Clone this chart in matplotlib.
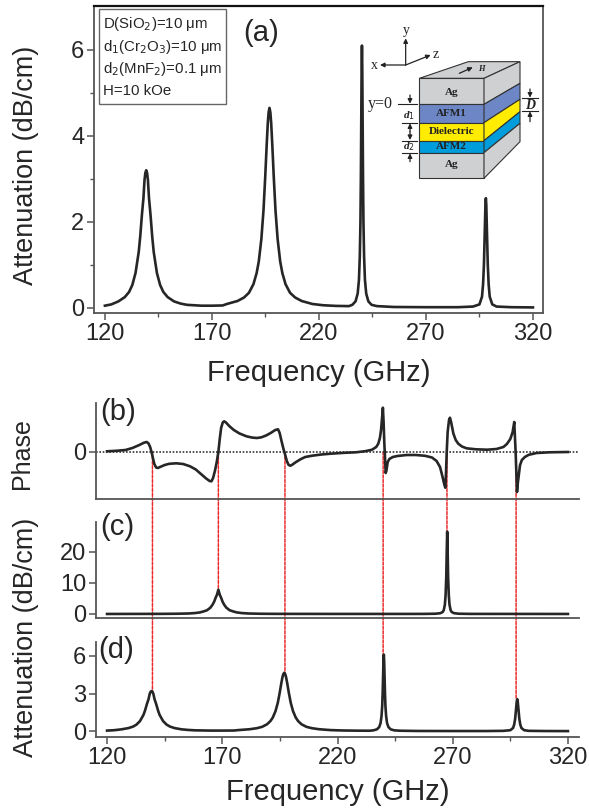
import matplotlib
matplotlib.use("Agg")
import matplotlib.pyplot as plt
from matplotlib.patches import ConnectionPatch, Polygon, Rectangle

plt.rcParams['font.family'] = ['Liberation Sans', 'DejaVu Sans']
W, H = 589, 809
INK = '#262626'
AX = '#555555'

# ---------- data ----------
freq_a = [120, 123, 126.3, 129.3, 131.3, 132.8, 134.3, 135.8, 136.5, 137.3, 138, 138.5, 138.9, 139.3,
          139.7, 140.1, 140.6, 141.3, 142.1, 142.8, 144.3, 145.8, 147.3, 149.3, 152.3, 155.3, 158.3, 165, 170, 175,
          177, 182, 185, 187.3, 189.4, 190.9, 191.9, 193.1, 194.1, 194.9, 195.6, 196.1, 196.5, 196.9,
          197.3, 197.7, 198.2, 198.9, 199.7, 200.7, 201.9, 202.9, 204.4, 206.5, 208.9, 211.9, 216.9, 222, 228, 234,
          235.6, 237.1, 238.1, 238.7, 239.1, 239.4, 239.6, 239.8, 239.95, 240.1,
          240.25, 240.4, 240.6, 240.8, 241.1, 241.5, 242.1, 243.1, 244.6, 247.1, 255, 270, 285, 292,
          295, 296.2, 296.7, 297.1, 297.4, 297.6, 297.8, 298,
          298.2, 298.4, 298.6, 298.9, 299.3, 299.8, 301, 303, 310, 320]
atten_a = [.05, .08, .15, .25, .37, .53, .81, 1.3, 1.66, 2.17, 2.55, 2.97, 3.14, 3.2,
           3.14, 2.97, 2.55, 2.17, 1.66, 1.3, .81, .53, .37, .25, .15, .10, .07, .05, .05, .055,
           .09, .16, .24, .35, .55, .81, 1.08, 1.6, 2.27, 3.04, 3.8, 4.29, 4.55, 4.65,
           4.55, 4.29, 3.8, 3.04, 2.27, 1.6, 1.08, .81, .55, .35, .24, .16, .09, .06, .045, .04,
           .07, .15, .33, .65, 1.2, 2.0, 3.05, 4.5, 5.6, 6.1,
           5.6, 4.5, 3.05, 2.0, 1.2, .65, .33, .15, .07, .04, .02, .015, .015, .03,
           .08, .26, .55, 1.0, 1.6, 2.0, 2.4, 2.55,
           2.4, 2.0, 1.6, 1.0, .55, .26, .08, .03, .015, .01]

freq_b = [120, 124, 128, 131, 134, 136, 137.2, 138, 138.7, 139.3, 139.8, 140.5, 141.3, 142, 143, 145, 147, 150, 153,
          156, 158.5, 161, 163, 164.5, 165.3, 166, 166.8, 167.6, 168.3, 168.9, 169.5, 170.2, 170.8, 171.6, 173, 175,
          177.5, 180.5, 183, 185, 187, 189, 191, 193, 194.2, 194.9, 195.7, 196.5, 197.2, 198, 198.8, 199.6, 200.5,
          202, 204, 206, 209, 213, 217, 223, 228, 232, 235, 236.8, 237.7, 238.4, 238.9, 239.3, 239.7, 240, 240.3,
          240.6, 240.9, 241.2, 241.8, 242.5, 244, 246, 250, 254, 258, 261, 263, 264.5, 265.6, 266.4, 266.8, 267.1,
          267.4, 267.8, 268.4, 268.8, 269.3, 270.3, 271.3, 272.4, 274, 276, 280, 285, 289, 292, 293.5, 295, 296,
          296.7, 297, 297.3, 297.6, 297.9, 298.3, 299.2, 300, 301.3, 303, 306.4, 312, 320]
phase_b = [.07, .12, .2, .4, .7, .93, 1.0, .85, .5, 0, -.5, -1.2, -1.55, -1.6, -1.5, -1.3, -1.18, -1.13, -1.2,
           -1.43, -1.75, -2.25, -2.65, -2.9, -2.93, -2.6, -1.9, -1.0, 0, 1.3, 2.4, 2.95, 3.07, 2.95, 2.6, 2.2,
           1.85, 1.57, 1.44, 1.4, 1.47, 1.65, 1.9, 2.2, 2.27, 1.9, 1.1, .35, -.2, -.9, -1.3, -1.37, -1.25,
           -1.0, -.72, -.5, -.37, -.25, -.17, -.08, -.03, .08, .23, .5, .83, 1.4, 2.2, 3.3, 4.43, 3.0, 1.0,
           -.5, -2.1, -1.9, -1.0, -.7, -.5, -.4, -.3, -.3, -.38, -.55, -.9, -1.5, -2.5, -3.3, -3.57, -2.0,
           0, 2.0, 3.2, 3.43, 3.0, 1.83, 1.2, .83, .55, .37, .27, .23, .3, .5, .8, 1.3, 2.0,
           3.0, 1.5, 0, -2.0, -4.0, -3.0, -1.33, -.8, -.5, -.28, -.1, -.03, 0]

freq_c = [120, 143, 150, 155.3, 158.3, 160.3, 161.8, 163.4, 164.8, 165.8, 166.5, 167.1, 167.7, 168.3,
          168.9, 169.5, 170.1, 170.8, 171.8, 173.2, 174.8, 176.3, 178.3, 181.3, 186.3, 193.3, 220, 250, 257.6, 262.6,
          264.6, 265.6, 266.1, 266.6, 266.9, 267.2, 267.4, 267.6,
          267.8, 268, 268.3, 268.6, 269.1, 269.6, 270.6, 272.6, 277.6, 320]
atten_c = [0, .03, .07, .15, .3, .5, .8, 1.2, 2.0, 3.0, 4.0, 5.2, 6.2, 7.8,
           6.2, 5.2, 4.0, 3.0, 2.0, 1.2, .8, .5, .3, .15, .07, .03, .01, .01, .02, .08,
           .25, .6, 1.2, 3.0, 6.0, 12.0, 20.0, 26.5,
           20.0, 12.0, 6.0, 3.0, 1.2, .6, .25, .08, .02, 0]

freq_d = freq_a
atten_d = atten_a

x_ticks = [120, 170, 220, 270, 320]
x_minor = [145, 195, 245, 295]
res_dc = [139.7, 197.2, 239.8, 297.5]
res_c = [168.3, 267.5]
peak_d = [3.2, 4.65, 6.1, 2.55]
peak_c = [7.8, 26.5]

info = ['D(SiO$_2$)=10 $\\mathregular{\\mu}$m', 'd$_1$(Cr$_2$O$_3$)=10 $\\mathregular{\\mu}$m',
        'd$_2$(MnF$_2$)=0.1 $\\mathregular{\\mu}$m', 'H=10 kOe']

fig = plt.figure(figsize=(W/100, H/100), dpi=100)


def make_ax(left, right, top, bottom):
    return fig.add_axes([left/W, 1-bottom/H, (right-left)/W, (bottom-top)/H])


LW = 1.9
a = make_ax(94, 543, 6, 313)
b = make_ax(96, 579, 403, 499)
c = make_ax(96, 579, 522, 618)
d = make_ax(96, 579, 642, 737)

a.plot(freq_a, atten_a, color=INK, lw=LW, solid_joinstyle='round')
b.plot(freq_b, phase_b, color=INK, lw=LW, solid_joinstyle='round', zorder=3)
c.plot(freq_c, atten_c, color=INK, lw=LW, solid_joinstyle='round')
d.plot(freq_d, atten_d, color=INK, lw=LW, solid_joinstyle='round')

a.set_xlim(114.9, 324.7)
a.set_ylim(-0.12, 7.02)
for ax in (b, c, d):
    ax.set_xlim(115.2, 324.8)
b.set_ylim(-4.7, 4.9)
c.set_ylim(-1.3, 29.6)
d.set_ylim(-0.46, 7.1)

for ax in (a, b, c, d):
    for s in ax.spines.values():
        s.set_color(AX)
        s.set_linewidth(1.3)
    ax.tick_params(colors=INK, labelsize=17, width=1.1, length=5, color=AX, pad=2)
    ax.tick_params(which='minor', width=1, length=3, color=AX)
    ax.patch.set_alpha(0)
a.spines['top'].set_color('#111111')
a.spines['top'].set_linewidth(1.6)
for ax in (b, c, d):
    ax.spines['top'].set_visible(False)
    ax.spines['right'].set_visible(False)

a.set_xticks(x_ticks)
a.set_xticks(x_minor, minor=True)
a.set_yticks([0, 2, 4, 6])
a.set_yticks([1, 3, 5], minor=True)
d.set_xticks(x_ticks)
d.set_xticks(x_minor, minor=True)
d.set_yticks([0, 3, 6])
b.set_xticks([])
b.set_yticks([0])
c.set_xticks([])
c.set_yticks([0, 10, 20])

a.set_xlabel('Frequency (GHz)', fontsize=21, color=INK, labelpad=10)
d.set_xlabel('Frequency (GHz)', fontsize=21, color=INK, labelpad=7)
fig.text(26/W, 1-165/H, 'Attenuation (dB/cm)', fontsize=19.5, color=INK, rotation=90, ha='center', va='center')
fig.text(22/W, 1-454/H, 'Phase', fontsize=18, color=INK, rotation=90, ha='center', va='center')
fig.text(26/W, 1-637/H, 'Attenuation (dB/cm)', fontsize=19.5, color=INK, rotation=90, ha='center', va='center')

b.axhline(0, color='#333333', lw=1.2, ls=(0, (1, 1)), zorder=1)

for lab, px, py in (('(a)', 243, 33), ('(b)', 100, 412), ('(c)', 100, 527), ('(d)', 98, 650)):
    fig.text(px/W, 1-py/H, lab, fontsize=21, color=INK, ha='left', va='center')

# red guide lines, drawn between data positions of the panels
for f, p in zip(res_dc, peak_d):
    fig.add_artist(ConnectionPatch((f, 0), (f, p), 'data', 'data', axesA=b, axesB=d,
                                   color='#ee2b2b', lw=1.1, ls=(0, (2, 1)), zorder=0))
for f, p in zip(res_c, peak_c):
    fig.add_artist(ConnectionPatch((f, 0), (f, p), 'data', 'data', axesA=b, axesB=c,
                                   color='#ee2b2b', lw=1.1, ls=(0, (2, 1)), zorder=0))

# ---------- overlay in pixel space: parameter box and sample schematic ----------
o = fig.add_axes([0, 0, 1, 1])
o.set_xlim(0, W)
o.set_ylim(H, 0)
o.axis('off')
o.patch.set_alpha(0)

o.add_patch(Rectangle((99, 9), 127, 95, fc='white', ec='#666666', lw=1))
for s, y in zip(info, (24, 47, 69, 91)):
    o.text(103, y, s, fontsize=10.8, color=INK, va='center', ha='left')


def z(x, y):
    return 340 + x/3, 10 + y/3


def poly(pts, color):
    o.add_patch(Polygon([z(*p) for p in pts], closed=True, fc=color, ec='#333333', lw=0.8))


GREY, BLUE1, YEL, BLUE2 = '#cfd0d2', '#6c86c6', '#ffec00', '#009ddc'
levels = [(205, 283, 155, 220, GREY), (283, 338, 220, 268, BLUE1), (338, 392, 268, 305, YEL),
          (392, 428, 305, 340, BLUE2), (428, 505, 340, 395, GREY)]
poly([(238, 205), (385, 155), (540, 155), (432, 205)], GREY)
for y0, y1, s0, s1, col in levels:
    poly([(238, y0), (432, y0), (432, y1), (238, y1)], col)
    poly([(432, y0), (540, s0), (540, s1), (432, y1)], col)

for s, y in (('Ag', 246), ('AFM1', 310), ('Dielectric', 364), ('AFM2', 409), ('Ag', 464)):
    x, yy = z(335, y)
    o.text(x, yy, s, family=['Liberation Serif'], fontsize=8, fontweight='bold', color='#222222', ha='center', va='center')


def arrow(p0, p1, lw=0.9):
    o.annotate('', xy=z(*p1), xytext=z(*p0),
               arrowprops=dict(arrowstyle='-|>,head_width=0.13,head_length=0.26', color='#222222', lw=lw, shrinkA=0, shrinkB=0))


def hline(x0, x1, y):
    o.plot([z(x0, y)[0], z(x1, y)[0]], [z(x0, y)[1]]*2, color='#222222', lw=0.8)


arrow((197, 165), (197, 85))
arrow((197, 165), (120, 165))
arrow((197, 165), (272, 135))
arrow((358, 190), (398, 172))
for s, x, y, fs in (('y', 200, 62, 10), ('x', 104, 167, 10), ('z', 288, 133, 10)):
    xx, yy = z(x, y)
    o.text(xx, yy, s, family=['Liberation Serif'], fontsize=fs, color='#222222', ha='center', va='center')
xx, yy = z(424, 178)
o.text(xx, yy, 'H', family=['Liberation Serif'], fontsize=6, style='italic', fontweight='bold', color='#222222', ha='center', va='center')
xx, yy = z(122, 283)
o.text(xx, yy, 'y=0', family=['Liberation Serif'], fontsize=11.5, color=INK, ha='center', va='center')
hline(174, 232, 283)
hline(185, 232, 338)
hline(185, 232, 392)
hline(185, 232, 428)
hline(546, 594, 265)
hline(546, 594, 302)
arrow((210, 255), (210, 281))
arrow((210, 365), (210, 340))
arrow((210, 365), (210, 390))
arrow((210, 455), (210, 430))
arrow((570, 237), (570, 263))
arrow((570, 335), (570, 304))
for s, x, y in (('d$_1$', 208, 317), ('d$_2$', 208, 410)):
    xx, yy = z(x, y)
    o.text(xx, yy, s, family=['Liberation Serif'], fontsize=8, style='italic', fontweight='bold', color='#222222', ha='center', va='center')
xx, yy = z(571, 285)
o.text(xx, yy, 'D', family=['Liberation Serif'], fontsize=10, style='italic', fontweight='bold', color='#222222', ha='center', va='center')

fig.savefig('out.png', dpi=100, facecolor='white')
